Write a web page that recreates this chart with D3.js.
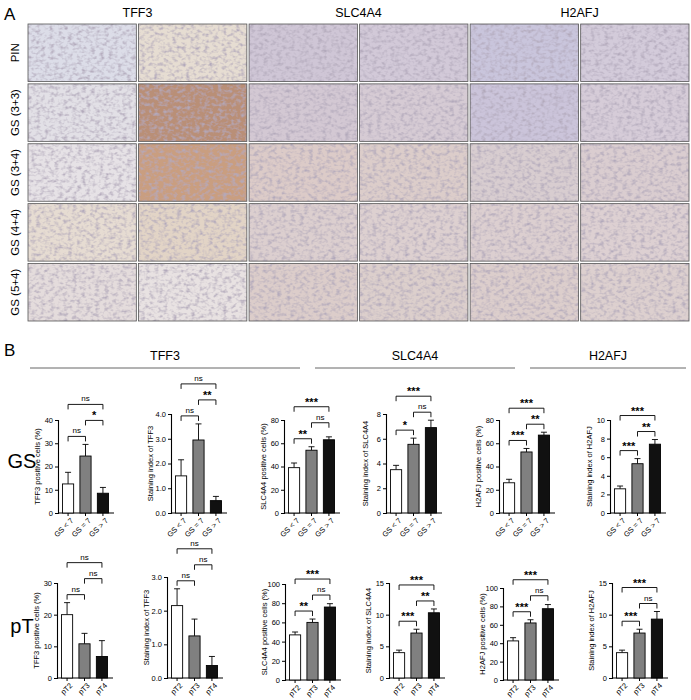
<!DOCTYPE html>
<html><head><meta charset="utf-8">
<script src="https://cdn.jsdelivr.net/npm/d3@7"></script>
<style>body{margin:0;background:#fff}text{font-family:"Liberation Sans",Arial,sans-serif}</style>
</head><body><svg id="c" width="691" height="700"></svg>
<script>
const genes = ["TFF3","SLC4A4","H2AFJ"];
const rowsA = ["PIN","GS (3+3)","GS (3+4)","GS (4+4)","GS (5+4)"];
// approximate stain colours of the micrographs (6 columns x 5 rows)
const cellColors = [
 ["#dcdde8","#e6ddd2","#cfc6d6","#d2c9d8","#c9c5dc","#d3cbda"],
 ["#e2e0e6","#b98f77","#d3c8d3","#d6cbd4","#cbc4da","#d6ccd8"],
 ["#e6e2e6","#c99e80","#dccbc8","#dccdca","#d8cdd0","#dacdd0"],
 ["#e6dcd2","#e2d4c6","#dccfcf","#ddd0d0","#dccfd0","#ddd0d2"],
 ["#e4dcdc","#e8e2e2","#dccdca","#dccfcc","#dccecc","#ddd0cf"]
];
const catsGS = ["GS < 7","GS = 7","GS > 7"];
const catsPT = ["pT2","pT3","pT4"];
// row GS
const gsTFF3pct = [12.5,24.5,8.5], gsTFF3pctErr=[5,5,2.5];
const gsTFF3si = [1.5,2.95,0.5], gsTFF3siErr=[0.65,0.65,0.17];
const gsSLCpct = [39,54,63], gsSLCpctErr=[4,3,2.5];
const gsSLCsi = [3.5,5.55,6.9], gsSLCsiErr=[0.35,0.5,0.6];
const gsH2pct = [26,52.5,67], gsH2pctErr=[3,3,2.5];
const gsH2si = [2.6,5.3,7.4], gsH2siErr=[0.3,0.55,0.5];
// row pT
const ptTFF3pct = [20,10.8,6.8], ptTFF3pctErr=[3.8,3.3,5];
const ptTFF3si = [2.15,1.25,0.37], ptTFF3siErr=[0.5,0.5,0.27];
const ptSLCpct = [47,60,76], ptSLCpctErr=[3,3.5,3.5];
const ptSLCsi = [4,7.1,10.3], ptSLCsiErr=[0.4,0.6,0.6];
const ptH2pct = [42.5,62,77.5], ptH2pctErr=[3.5,3.5,4.5];
const ptH2si = [4,7.1,9.3], ptH2siErr=[0.4,0.6,1.2];
// significance: [i,j,label]
const sig = [
 [[0,1,"ns"],[1,2,"*"],[0,2,"ns"]],
 [[0,1,"ns"],[1,2,"**"],[0,2,"ns"]],
 [[0,1,"**"],[1,2,"ns"],[0,2,"***"]],
 [[0,1,"*"],[1,2,"ns"],[0,2,"***"]],
 [[0,1,"***"],[1,2,"**"],[0,2,"***"]],
 [[0,1,"***"],[1,2,"**"],[0,2,"***"]],
 [[0,1,"ns"],[1,2,"ns"],[0,2,"ns"]],
 [[0,1,"ns"],[1,2,"ns"],[0,2,"ns"]],
 [[0,1,"**"],[1,2,"ns"],[0,2,"***"]],
 [[0,1,"***"],[1,2,"**"],[0,2,"***"]],
 [[0,1,"***"],[1,2,"ns"],[0,2,"***"]],
 [[0,1,"***"],[1,2,"ns"],[0,2,"***"]]
];
const barColors = ["#ffffff","#808080","#111111"];

const svg = d3.select("#c");
const defs = svg.append("defs");
const f = defs.append("filter").attr("id","tex").attr("x",0).attr("y",0).attr("width",1).attr("height",1);
f.append("feTurbulence").attr("type","fractalNoise").attr("baseFrequency","0.22 0.3").attr("numOctaves",2).attr("seed",4).attr("result","n");
f.append("feColorMatrix").attr("in","n").attr("type","matrix")
 .attr("values","0 0 0 0 0.45  0 0 0 0 0.4  0 0 0 0 0.5  0 0 0 -2.4 1.35").attr("result","m");
f.append("feComposite").attr("in","m").attr("in2","SourceGraphic").attr("operator","in").attr("result","m2");
f.append("feMerge").call(m=>{m.append("feMergeNode").attr("in","SourceGraphic");m.append("feMergeNode").attr("in","m2");});

// Panel A
svg.append("text").attr("x",4).attr("y",20).attr("font-size",17).text("A");
const colX = d3.scaleBand().domain(d3.range(6)).range([28,689]).paddingInner(0.02);
const rowY = d3.scaleBand().domain(d3.range(5)).range([24,321]).paddingInner(0.04);
genes.forEach((g,i)=>svg.append("text").attr("x",(colX(i*2)+colX(i*2+1)+colX.bandwidth())/2).attr("y",17)
  .attr("text-anchor","middle").attr("font-size",12.5).text(g));
rowsA.forEach((r,ri)=>{
  svg.append("text").attr("transform",`translate(19,${rowY(ri)+rowY.bandwidth()/2}) rotate(-90)`)
    .attr("text-anchor","middle").attr("font-size",11.5).text(r);
  cellColors[ri].forEach((c,ci)=>{
    svg.append("rect").attr("x",colX(ci)).attr("y",rowY(ri)).attr("width",colX.bandwidth()).attr("height",rowY.bandwidth())
      .attr("fill",c).attr("filter","url(#tex)");
    svg.append("rect").attr("x",colX(ci)).attr("y",rowY(ri)).attr("width",colX.bandwidth()).attr("height",rowY.bandwidth())
      .attr("fill","none").attr("stroke","#555").attr("stroke-width",0.8);
  });
});

// Panel B
svg.append("text").attr("x",4).attr("y",356).attr("font-size",17).text("B");
const hdr = [[30,300],[315,515],[530,686]];
genes.forEach((g,i)=>{
  svg.append("text").attr("x",(hdr[i][0]+hdr[i][1])/2).attr("y",360).attr("text-anchor","middle").attr("font-size",12.5).text(g);
  svg.append("line").attr("x1",hdr[i][0]).attr("x2",hdr[i][1]).attr("y1",368).attr("y2",368).attr("stroke","#666");
});
svg.append("text").attr("x",22).attr("y",468).attr("text-anchor","middle").attr("font-size",20).text("GS");
svg.append("text").attr("x",22).attr("y",633).attr("text-anchor","middle").attr("font-size",20).text("pT");

const charts = [
 {v:gsTFF3pct,e:gsTFF3pctErr,max:40,step:10,lab:"TFF3 positive cells (%)",ax:58,top:420,bot:513,cats:catsGS},
 {v:gsTFF3si,e:gsTFF3siErr,max:4,step:1,lab:"Staining index of TFF3",ax:171,top:414,bot:513,cats:catsGS},
 {v:gsSLCpct,e:gsSLCpctErr,max:80,step:20,lab:"SLC4A4 positive cells (%)",ax:284,top:420,bot:513,cats:catsGS},
 {v:gsSLCsi,e:gsSLCsiErr,max:8,step:2,lab:"Staining index of SLC4A4",ax:386,top:414,bot:513,cats:catsGS},
 {v:gsH2pct,e:gsH2pctErr,max:80,step:20,lab:"H2AFJ positive cells (%)",ax:499,top:420,bot:513,cats:catsGS},
 {v:gsH2si,e:gsH2siErr,max:10,step:2,lab:"Staining index of H2AFJ",ax:610,top:420,bot:513,cats:catsGS},
 {v:ptTFF3pct,e:ptTFF3pctErr,max:30,step:10,lab:"TFF3 positive cells (%)",ax:57,top:583,bot:678,cats:catsPT},
 {v:ptTFF3si,e:ptTFF3siErr,max:3,step:1,lab:"Staining index of TFF3",ax:167,top:577,bot:678,cats:catsPT},
 {v:ptSLCpct,e:ptSLCpctErr,max:100,step:20,lab:"SLC4A4 positive cells (%)",ax:285,top:584,bot:680,cats:catsPT},
 {v:ptSLCsi,e:ptSLCsiErr,max:15,step:5,lab:"Staining index of SLC4A4",ax:389,top:583,bot:678,cats:catsPT},
 {v:ptH2pct,e:ptH2pctErr,max:100,step:20,lab:"H2AFJ positive cells (%)",ax:503,top:588,bot:680,cats:catsPT},
 {v:ptH2si,e:ptH2siErr,max:15,step:5,lab:"Staining index of H2AFJ",ax:612,top:583,bot:678,cats:catsPT}
];
charts.forEach((c,ci)=>{
  const g = svg.append("g");
  const y = d3.scaleLinear().domain([0,c.max]).range([c.bot,c.top]);
  const x = d3.scaleBand().domain(c.cats).range([c.ax+1,c.ax+54]).paddingInner(0.36).paddingOuter(0.2);
  const ya = g.append("g").attr("transform",`translate(${c.ax},0)`)
    .call(d3.axisLeft(y).tickValues(d3.range(0,c.max+1e-9,c.step)).tickSize(3).tickPadding(2));
  ya.selectAll("text").attr("font-size",7.5).attr("font-family","Liberation Sans");
  ya.select(".domain").attr("stroke-width",1.1);
  const xa = g.append("g").attr("transform",`translate(0,${c.bot})`)
    .call(d3.axisBottom(x).tickSize(3).tickSizeOuter(0));
  xa.select(".domain").attr("d",`M${c.ax},0H${c.ax+56}`).attr("stroke-width",1.1);
  xa.selectAll("text").attr("font-size",7.5).attr("text-anchor","end").attr("dx","-0.2em").attr("dy","0.5em")
    .attr("transform","rotate(-45)");
  g.append("text").attr("transform",`translate(${c.ax-18},${(c.top+c.bot)/2}) rotate(-90)`)
    .attr("text-anchor","middle").attr("font-size",7.5).text(c.lab);
  c.cats.forEach((k,i)=>{
    const cx = x(k)+x.bandwidth()/2;
    g.append("line").attr("x1",cx).attr("x2",cx).attr("y1",y(c.v[i])).attr("y2",y(c.v[i]+c.e[i])).attr("stroke","#000").attr("stroke-width",0.9);
    g.append("line").attr("x1",cx-3).attr("x2",cx+3).attr("y1",y(c.v[i]+c.e[i])).attr("y2",y(c.v[i]+c.e[i])).attr("stroke","#000").attr("stroke-width",0.9);
    g.append("rect").attr("x",x(k)).attr("y",y(c.v[i])).attr("width",x.bandwidth()).attr("height",c.bot-y(c.v[i]))
      .attr("fill",barColors[i]).attr("stroke","#000").attr("stroke-width",0.9);
  });
  const placed=[];
  sig[ci].forEach(([a,b,l])=>{
    let top = d3.min(d3.range(a,b+1),i=>y(c.v[i]+c.e[i]))-8;
    placed.forEach(p=>{ if(!(p.b<a||p.a>b)) top=Math.min(top,p.y-16); });
    placed.push({a,b,y:top});
    const x1 = x(c.cats[a])+x.bandwidth()/2, x2 = x(c.cats[b])+x.bandwidth()/2;
    g.append("path").attr("d",`M${x1},${top+5}V${top}H${x2}V${top+5}`).attr("fill","none").attr("stroke","#000").attr("stroke-width",0.9);
    g.append("text").attr("x",(x1+x2)/2).attr("y",l==="ns"?top-3:top-1).attr("text-anchor","middle")
      .attr("font-size",l==="ns"?8:11).attr("font-weight",l==="ns"?"normal":"bold").text(l);
  });
});
</script></body></html>
